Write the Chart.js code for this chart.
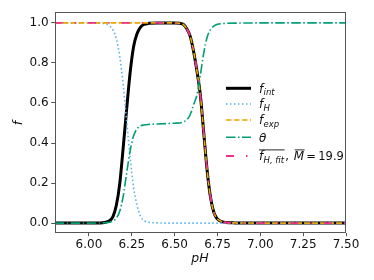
<!DOCTYPE html>
<html><head><meta charset="utf-8">
<script src="https://cdn.jsdelivr.net/npm/chart.js@4/dist/chart.umd.min.js"></script>
<style>html,body{margin:0;padding:0;background:#fff}#wrap{width:374px;height:280px;position:relative}</style>
</head><body><div id="wrap"><canvas id="c"></canvas></div>
<script>
// sampled pH values
const pH = [5.80,6.00,6.08,6.10,6.12,6.14,6.16,6.18,6.20,6.22,6.24,6.26,6.28,6.30,6.32,6.35,6.40,6.45,6.50,6.53,6.55,6.57,6.59,6.61,6.63,6.65,6.67,6.69,6.71,6.73,6.75,6.78,6.80,6.85,7.00,7.25,7.50];
// f_int
const fInt = [0,0,0.002,0.005,0.012,0.032,0.09,0.20,0.38,0.57,0.75,0.88,0.945,0.978,0.992,0.998,1,1,1,0.998,0.993,0.972,0.935,0.86,0.76,0.64,0.45,0.26,0.125,0.05,0.02,0.006,0.003,0.001,0,0,0];
// f_H
const fH = [1,1,0.998,0.995,0.985,0.965,0.92,0.83,0.69,0.51,0.33,0.18,0.09,0.035,0.013,0.004,0.001,0,0,0,0,0,0,0,0,0,0,0,0,0,0,0,0,0,0,0,0];
// f_exp
const fExp = [1,1,1,1,1,1,1,1,1,1,1,1,1,1,1,1,1,1,1,0.998,0.993,0.972,0.935,0.86,0.76,0.64,0.45,0.26,0.125,0.05,0.02,0.006,0.003,0.001,0,0,0];
// theta
const theta = [0,0,0.001,0.002,0.004,0.01,0.025,0.06,0.135,0.25,0.36,0.435,0.47,0.485,0.49,0.493,0.495,0.497,0.499,0.5,0.505,0.515,0.54,0.59,0.64,0.74,0.85,0.93,0.968,0.985,0.993,0.997,0.998,0.999,1,1,1];
// f_H,fit (mean)
const fHfit = [1,1,1,1,1,1,1,1,1,1,1,1,1,1,1,1,1,1,1,0.998,0.993,0.972,0.935,0.86,0.76,0.64,0.45,0.26,0.125,0.05,0.02,0.006,0.003,0.001,0,0,0];
const Mbar = '19.9';

const xTicks = [6.00,6.25,6.50,6.75,7.00,7.25,7.50];
const xTickLabels = ['6.00','6.25','6.50','6.75','7.00','7.25','7.50'];
const yTicks = [0,0.2,0.4,0.6,0.8,1.0];
const yTickLabels = ['0.0','0.2','0.4','0.6','0.8','1.0'];

const C_BLACK = '#000000', C_BLUE = '#56B4E9', C_ORANGE = '#E9A500', C_GREEN = '#009E73', C_PINK = '#E8308C';
const STY = {
  int:  {color:C_BLACK,  width:3,   dash:[]},
  H:    {color:C_BLUE,   width:1.6, dash:[1.5,2.5]},
  exp:  {color:C_ORANGE, width:1.6, dash:[5.5,2.5]},
  th:   {color:C_GREEN,  width:1.6, dash:[9.5,2.5,1.5,2.5]},
  fit:  {color:C_PINK,   width:1.8, dash:[8,12,1.5,12]}
};
const pts = arr => pH.map((x,i)=>({x:x,y:arr[i]}));
function ds(arr, s, order){
  return {data:pts(arr), borderColor:s.color, borderWidth:s.width, borderDash:s.dash,
    borderCapStyle:'butt', pointRadius:0, fill:false, cubicInterpolationMode:'monotone', order:order};
}

const frame = {
  id:'frame',
  afterDatasetsDraw(chart){
    const a = chart.chartArea, ctx = chart.ctx;
    ctx.save();
    ctx.strokeStyle = '#555'; ctx.lineWidth = 1;
    ctx.strokeRect(Math.round(a.left)+0.5, Math.round(a.top)+0.5, Math.round(a.right-a.left)-1, Math.round(a.bottom-a.top)-1);
    ctx.restore();
  },
  afterDraw(chart){
    const ctx = chart.ctx;
    ctx.save();
    ctx.fillStyle = '#111';
    // axis titles
    ctx.font = 'italic 12.5px "DejaVu Sans"';
    ctx.textAlign = 'center'; ctx.textBaseline = 'alphabetic';
    ctx.fillText('pH', 200, 262);
    ctx.translate(22, 123); ctx.rotate(-Math.PI/2);
    ctx.fillText('f', 0, 0);
    ctx.restore();

    // legend
    ctx.save();
    const lx0 = 226, lx1 = 251, tx = 259;
    const rows = [
      {s:STY.int, y:88.3, main:'f', sub:'int'},
      {s:STY.H,   y:104,  main:'f', sub:'H'},
      {s:STY.exp, y:120,  main:'f', sub:'exp'},
      {s:STY.th,  y:137.3, main:'\u03B8', sub:''},
      {s:STY.fit, y:156,  main:'f', sub:'H, fit', last:true}
    ];
    const FM = 'italic 12px "DejaVu Sans"', FS = 'italic 8.5px "DejaVu Sans"', FR = '11.5px "DejaVu Sans"';
    rows.forEach(r=>{
      ctx.strokeStyle = r.s.color; ctx.lineWidth = r.s.width; ctx.setLineDash(r.s.dash); ctx.lineCap='butt';
      ctx.beginPath(); ctx.moveTo(lx0, r.y); ctx.lineTo(lx1, r.y); ctx.stroke();
      ctx.setLineDash([]);
      ctx.fillStyle = '#111'; ctx.textAlign = 'left'; ctx.textBaseline = 'alphabetic';
      let x = tx; const base = r.y + 4.2;
      ctx.font = FM; ctx.fillText(r.main, x, base); const x0 = x; x += ctx.measureText(r.main).width;
      if (r.sub){ ctx.font = FS; ctx.fillText(r.sub, x+0.3, base+2.6); x += ctx.measureText(r.sub).width+0.3; }
      if (r.last){
        ctx.strokeStyle = '#111'; ctx.lineWidth = 0.9;
        ctx.beginPath(); ctx.moveTo(x0, base-10.3); ctx.lineTo(x+0.5, base-10.3); ctx.stroke();
        ctx.font = FR; ctx.fillText(',', x+1, base); x += ctx.measureText(',').width + 1 + 5;
        ctx.font = FM; ctx.fillText('M', x, base); const mw = ctx.measureText('M').width;
        ctx.beginPath(); ctx.moveTo(x+1, base-10.3); ctx.lineTo(x+mw+0.5, base-10.3); ctx.stroke();
        x += mw + 2;
        ctx.font = FR; ctx.fillText('=', x, base); x += ctx.measureText('=').width + 2.5;
        ctx.fillText(Mbar, x, base);
      }
    });
    ctx.restore();
  }
};

new Chart(document.getElementById('c'), {
  type:'line',
  data:{datasets:[
    ds(fInt, STY.int, 5),
    ds(fH, STY.H, 4),
    ds(fExp, STY.exp, 3),
    ds(theta, STY.th, 2),
    ds(fHfit, STY.fit, 1)
  ]},
  options:{
    responsive:true, maintainAspectRatio:false, animation:false, devicePixelRatio:1,
    layout:{padding:{top:11.7, right:28, left:0, bottom:0}},
    plugins:{legend:{display:false}, tooltip:{enabled:false}},
    scales:{
      x:{type:'linear', min:5.8, max:7.5,
        afterBuildTicks(s){ s.ticks = xTicks.map(v=>({value:v})); },
        afterFit(s){ s.height = 47.3; },
        ticks:{autoSkip:false, maxRotation:0, padding:1.5, color:'#111', font:{family:'DejaVu Sans', size:12},
          callback(v){ const i = xTicks.findIndex(t=>Math.abs(t-v)<1e-9); return i>=0 ? xTickLabels[i] : ''; }},
        grid:{drawOnChartArea:false, drawTicks:true, tickLength:3.5, color:'#555'},
        border:{display:false}
      },
      y:{type:'linear', min:-0.048, max:1.056,
        afterBuildTicks(s){ s.ticks = yTicks.map(v=>({value:v})); },
        afterFit(s){ s.width = 54.7; },
        ticks:{autoSkip:false, padding:2.5, color:'#111', font:{family:'DejaVu Sans', size:12},
          callback(v){ const i = yTicks.findIndex(t=>Math.abs(t-v)<1e-9); return i>=0 ? yTickLabels[i] : ''; }},
        grid:{drawOnChartArea:false, drawTicks:true, tickLength:3.5, color:'#555'},
        border:{display:false}
      }
    }
  },
  plugins:[frame]
});
</script></body></html>
